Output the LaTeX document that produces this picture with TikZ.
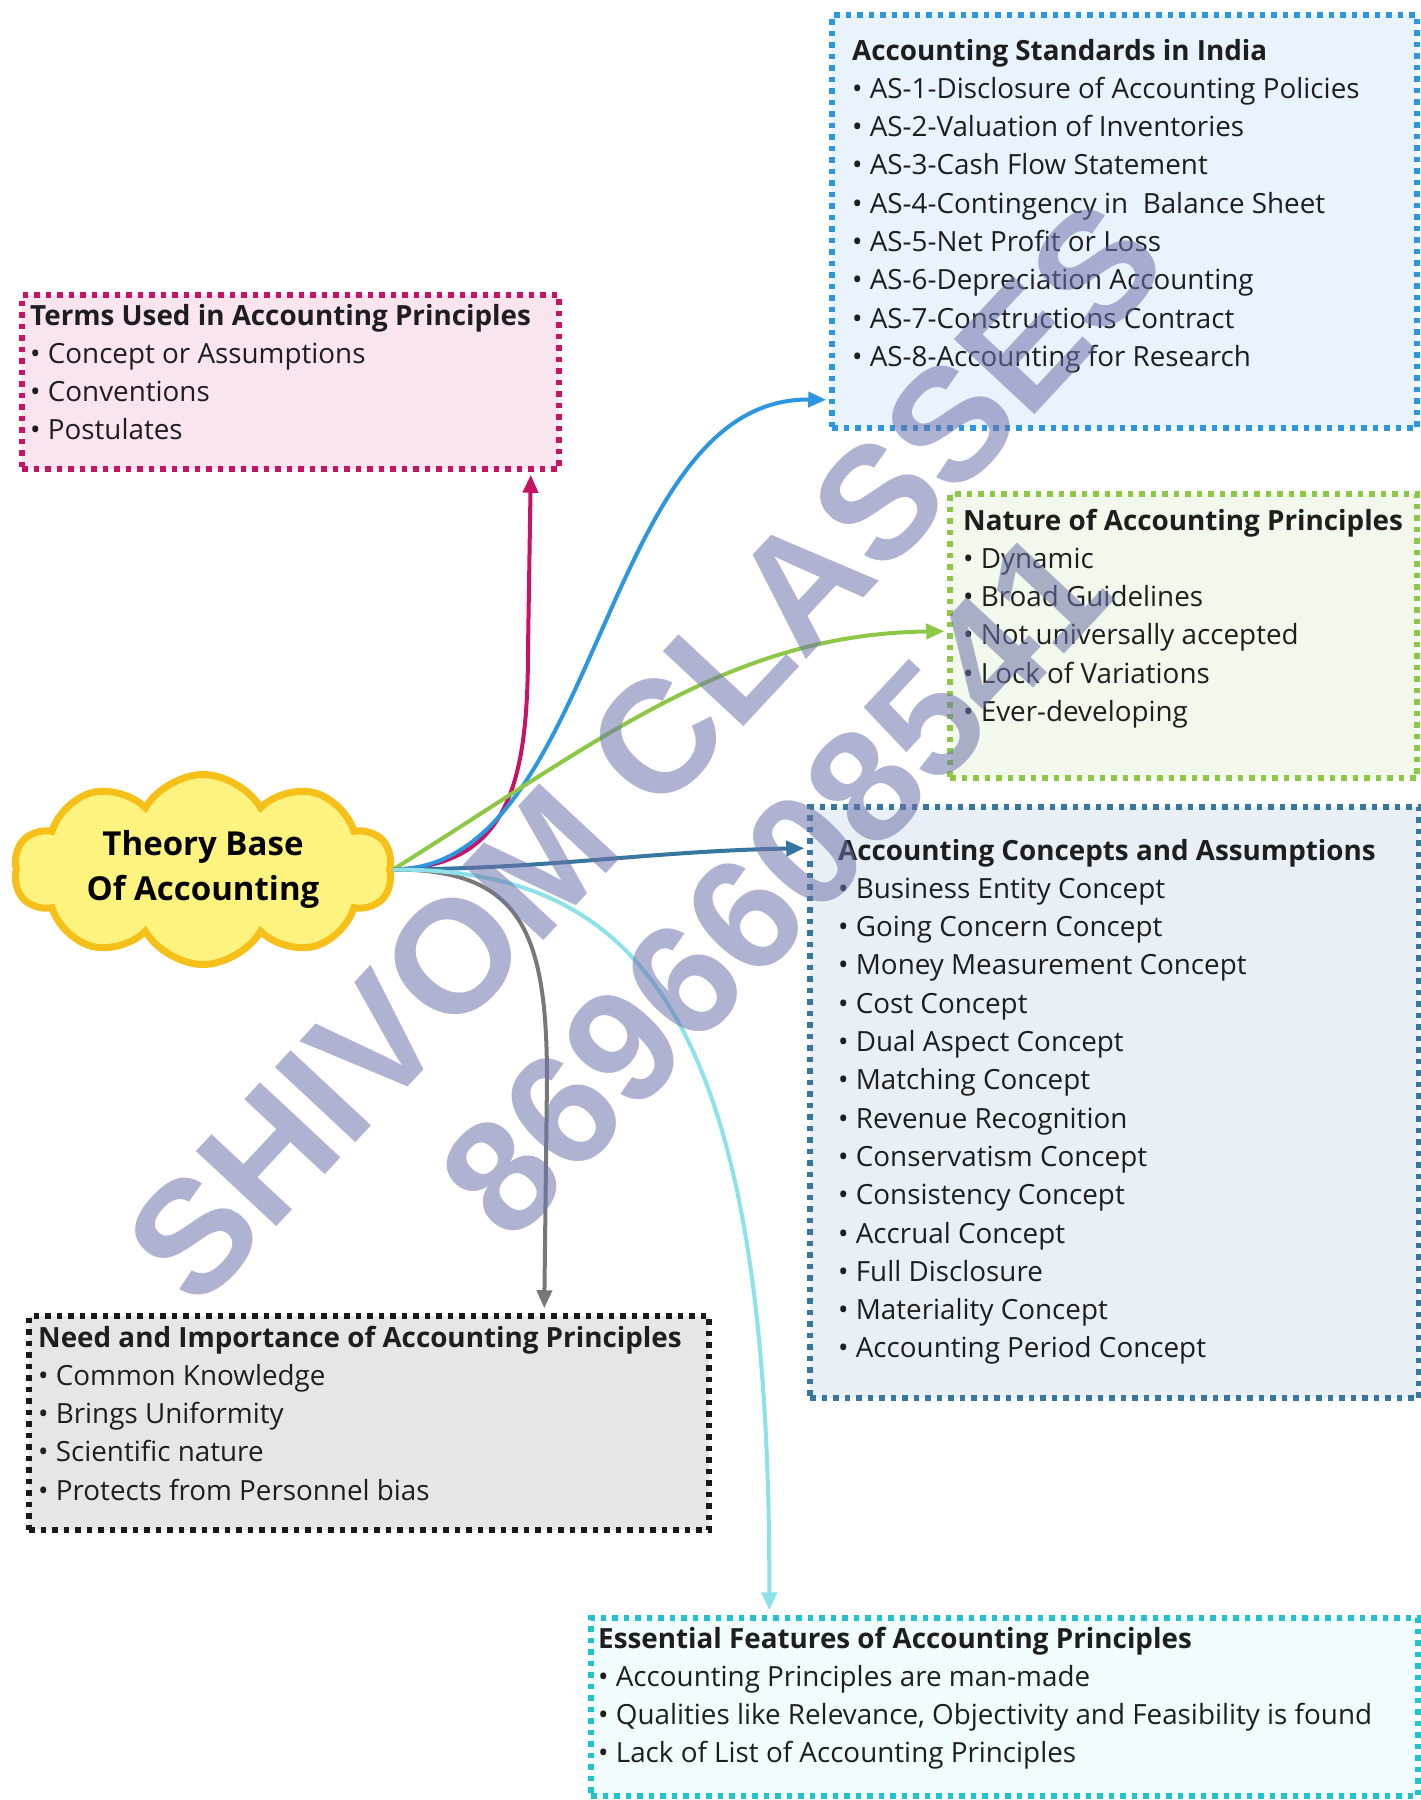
\documentclass[tikz,border=0pt]{standalone}
\usepackage{fontspec}
\setmainfont{Open Sans}
\newfontfamily\wmfont{Liberation Sans}
\usetikzlibrary{shapes.symbols,arrows.meta,calc}

\definecolor{inkc}{RGB}{30,30,30}
\definecolor{pinkc}{RGB}{200,18,100}
\definecolor{pinkf}{RGB}{250,228,238}
\definecolor{bluec}{RGB}{45,150,225}
\definecolor{bluef}{RGB}{232,243,253}
\definecolor{greenc}{RGB}{140,200,70}
\definecolor{greenf}{RGB}{242,248,236}
\definecolor{steelc}{RGB}{55,118,158}
\definecolor{steelf}{RGB}{232,240,245}
\definecolor{blackc}{RGB}{25,25,25}
\definecolor{greyf}{RGB}{230,230,230}
\definecolor{cyanc}{RGB}{30,195,205}
\definecolor{cyanf}{RGB}{240,252,253}
\definecolor{greyarrow}{RGB}{120,120,120}
\definecolor{cyanarrow}{RGB}{140,225,235}
\definecolor{cloudedge}{RGB}{246,192,25}
\definecolor{cloudfill}{RGB}{255,243,128}
\definecolor{wmc}{RGB}{110,115,170}

\newcommand{\bitem}[1]{\hbox{•\ #1}}
\newcommand{\boxlines}[2]{\vtop{\baselineskip=38.3pt\hbox{\bfseries #1}#2}}

\tikzset{
  panel/.style={draw=#1, line width=5.5pt, dash pattern=on 5.5pt off 6pt,
    rectangle, inner sep=0pt},
  listtext/.style={anchor=base west, inner sep=0pt, text=inkc,
    font=\fontsize{27.8pt}{38.3pt}\selectfont},
  conn/.style={line width=4pt, -{Triangle[length=18pt,width=15pt]}},
  wm/.style={text=wmc, opacity=0.55, inner sep=0pt,
    font=\wmfont\bfseries\fontsize{160pt}{160pt}\selectfont},
}

\begin{document}
\begin{tikzpicture}[x=1pt, y=-1pt]
\useasboundingbox (0,0) rectangle (1421,1800);
\fill[white] (0,0) rectangle (1421,1800);

% panels
\node[panel=bluec, fill=bluef, minimum width=585pt, minimum height=413pt] (std) at (1124.5,221.5) {};
\node[panel=pinkc, fill=pinkf, minimum width=537pt, minimum height=174pt] (terms) at (290.5,382) {};
\node[panel=greenc, fill=greenf, minimum width=467pt, minimum height=284pt] (nature) at (1183.5,636) {};
\node[panel=steelc, fill=steelf, minimum width=609pt, minimum height=591pt] (concepts) at (1114.5,1102.5) {};
\node[panel=blackc, fill=greyf, minimum width=680pt, minimum height=214pt] (need) at (369,1423) {};
\node[panel=cyanc, fill=cyanf, minimum width=827pt, minimum height=178pt] (essential) at (1004.5,1707) {};

% panel texts
\node[listtext] (stdtext) at (852,60) {\boxlines{Accounting Standards in India}{%
  \bitem{AS-1-Disclosure of Accounting Policies}
  \bitem{AS-2-Valuation of Inventories}
  \bitem{AS-3-Cash Flow Statement}
  \bitem{AS-4-Contingency in~ Balance Sheet}
  \bitem{AS-5-Net Profit or Loss}
  \bitem{AS-6-Depreciation Accounting}
  \bitem{AS-7-Constructions Contract}
  \bitem{AS-8-Accounting for Research}}};
\node[listtext] (termstext) at (30,325) {\boxlines{Terms Used in Accounting Principles}{%
  \bitem{Concept or Assumptions}
  \bitem{Conventions}
  \bitem{Postulates}}};
\node[listtext] (naturetext) at (963,530) {\boxlines{Nature of Accounting Principles}{%
  \bitem{Dynamic}
  \bitem{Broad Guidelines}
  \bitem{Not universally accepted}
  \bitem{Lock of Variations}
  \bitem{Ever-developing}}};
\node[listtext] (conceptstext) at (838,860) {\boxlines{Accounting Concepts and Assumptions}{%
  \bitem{Business Entity Concept}
  \bitem{Going Concern Concept}
  \bitem{Money Measurement Concept}
  \bitem{Cost Concept}
  \bitem{Dual Aspect Concept}
  \bitem{Matching Concept}
  \bitem{Revenue Recognition}
  \bitem{Conservatism Concept}
  \bitem{Consistency Concept}
  \bitem{Accrual Concept}
  \bitem{Full Disclosure}
  \bitem{Materiality Concept}
  \bitem{Accounting Period Concept}}};
\node[listtext] (needtext) at (38,1347) {\boxlines{Need and Importance of Accounting Principles}{%
  \bitem{Common Knowledge}
  \bitem{Brings Uniformity}
  \bitem{Scientific nature}
  \bitem{Protects from Personnel bias}}};
\node[listtext] (essentialtext) at (598,1648) {\boxlines{Essential Features of Accounting Principles}{%
  \bitem{Accounting Principles are man-made}
  \bitem{Qualities like Relevance, Objectivity and Feasibility is found}
  \bitem{Lack of List of Accounting Principles}}};

% central cloud and its title
\node[cloud, cloud puffs=10, cloud puff arc=120,
  draw=cloudedge, fill=cloudfill, line width=7pt,
  minimum width=378pt, minimum height=190pt, inner sep=0pt] (core) at (203,869.5) {};
\node[align=center, text=black, inner sep=0pt,
  font=\bfseries\fontsize{33pt}{45pt}\selectfont] (coretext) at (core.center) {Theory Base\\Of Accounting};

% arrow tips on the panels
\coordinate (pinktip) at ([xshift=-31pt,yshift=-3pt]terms.south east);
\coordinate (bluetip) at ([xshift=-3pt,yshift=31pt]std.south west);
\coordinate (greentip) at ([xshift=-3pt,yshift=-140pt]nature.north west);
\coordinate (steeltip) at ([xshift=-3pt,yshift=-44pt]concepts.north west);
\coordinate (greytip) at ([xshift=518pt,yshift=5pt]need.north west);
\coordinate (cyantip) at ([xshift=181pt,yshift=5pt]essential.north west);

% connectors
\draw[conn, pinkc] (core.east) .. controls (505,866) and (528,790) .. (528,650) -- (pinktip);
\draw[conn, bluec] (core.east) .. controls (600,869) and (600,397) .. (bluetip);
\draw[conn, greenc] (core.east) .. controls (600,740) and (730,634) .. (greentip);
\draw[conn, steelc] (core.east) .. controls (550,869) and (650,851) .. (steeltip);
\draw[conn, greyarrow] (core.east) .. controls (520,869) and (547,930) .. (547,1080) -- (greytip);
\draw[conn, cyanarrow] (core.east) .. controls (630,869) and (771,1000) .. (cyantip);

% watermark
\node[wm, rotate=47] (wmname) at (645,752) {SHIVOM CLASSES};
\node[wm, rotate=47] (wmphone) at (775,884) {8696608541};
\end{tikzpicture}
\end{document}
